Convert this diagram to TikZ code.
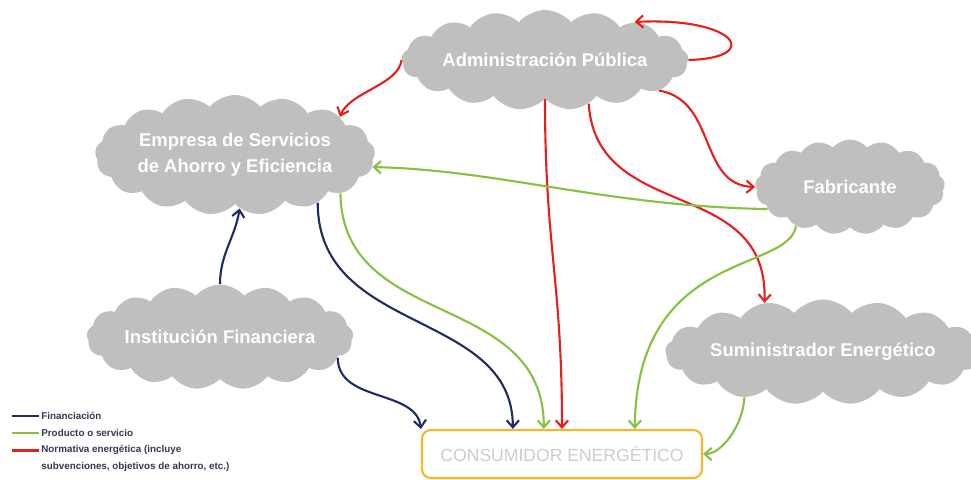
\documentclass[tikz,border=0pt]{standalone}
\usepackage{fontspec}
\setsansfont{Liberation Sans}
\definecolor{financia}{RGB}{31, 42, 104}
\definecolor{producto}{RGB}{132, 194, 65}
\definecolor{normativa}{RGB}{228, 32, 28}
\definecolor{nube}{RGB}{191, 191, 191}
\definecolor{marco}{RGB}{242, 182, 45}
\definecolor{rotulo}{RGB}{55, 55, 80}
\usetikzlibrary{shapes.symbols, arrows.meta}
\tikzset{
    agente/.style={
        cloud, cloud puffs=17, cloud puff arc=100, cloud ignores aspect,
        fill=nube, draw=none, text=white, inner sep=0pt,
        font=\sffamily\bfseries\fontsize{10.5}{15}\selectfont, align=center
    },
    consumidor/.style={
        rectangle, rounded corners=5pt,
        minimum width=5.6cm, minimum height=0.96cm,
        draw=marco, line width=1.2pt, text=black!20,
        font=\sffamily\fontsize{10}{12}\selectfont
    },
    flujo/.style={-{Straight Barb[length=4pt, width=7pt]}, line width=1.2pt, color=#1},
    fin/.style={flujo=financia},
    prod/.style={flujo=producto},
    norma/.style={flujo=normativa},
    leyenda/.style={anchor=west, inner sep=0pt, text=rotulo, align=left,
        font=\sffamily\bfseries\fontsize{5.6}{9.6}\selectfont}
}

\begin{document}
\begin{tikzpicture}[x=0.02cm, y=-0.02cm]
    \useasboundingbox (0,0) rectangle (971,480);

    % Agents
    \node[agente, minimum width=5.1cm, minimum height=2cm] (admin) at (545,60) {Administración Pública};
    \node[agente, minimum width=5.6cm, minimum height=2.4cm] (esae) at (235,155) {Empresa de Servicios\\de Ahorro y Eficiencia};
    \node[agente, minimum width=3.8cm, minimum height=1.9cm] (fab) at (850,187) {Fabricante};
    \node[agente, minimum width=5.1cm, minimum height=2.1cm] (inst) at (220,337) {Institución Financiera};
    \node[agente, minimum width=5.9cm, minimum height=2.1cm] (sumi) at (823,352) {Suministrador Energético};
    \node[consumidor] (cons) at (562,454) {CONSUMIDOR ENERGÉTICO};

    % Regulation
    \draw[norma] (admin.east) .. controls +(75,-2) and +(102,-5) .. (admin.23);
    \draw[norma] (admin.west) .. controls +(-3,25) and +(10,-25) .. (esae.20);
    \draw[norma] (admin.south) .. controls +(0,150) and +(0,-150) .. (cons.north);
    \draw[norma] (admin.-15) .. controls +(58,10) and +(-57,-2) .. (fab.west);
    \draw[norma] (admin.-45) .. controls +(8,120) and +(4,-128) .. (sumi.140);

    % Products and services
    \draw[prod] (fab.195) .. controls +(-163,-3) and +(128,3) .. (esae.-5);
    \draw[prod] (fab.-144) .. controls +(-8,47) and +(2,-180) .. (cons.19);
    \draw[prod] (sumi.-150) .. controls +(-2,30) and +(18,0) .. (cons.east);
    \draw[prod] (esae.-20) .. controls +(2,138) and +(0,-140) .. (cons.126);

    % Funding
    \draw[fin] (inst.north) .. controls +(0,-30) and +(-5,30) .. (esae.-85);
    \draw[fin] (esae.-30) .. controls +(0,133) and +(0,-120) .. (cons.153);
    \draw[fin] (inst.-10) .. controls +(0,45) and +(-5,-40) .. (cons.north west);

    % Legend
    \node[leyenda] (lfin) at (41,416) {Financiación};
    \node[leyenda] (lprod) at (41,433) {Producto o servicio};
    \node[leyenda, anchor=north west] (lnorma) at (41,445) {Normativa energética (incluye\\subvenciones, objetivos de ahorro, etc.)};
    \draw[financia, line width=1.6pt] ([xshift=-1pt]lfin.west) -- ++(-27,0);
    \draw[producto, line width=1.6pt] ([xshift=-1pt]lprod.west) -- ++(-27,0);
    \draw[normativa, line width=1.6pt] ([xshift=-1pt, yshift=-3pt]lnorma.north west) -- ++(-27,0);
\end{tikzpicture}
\end{document}
